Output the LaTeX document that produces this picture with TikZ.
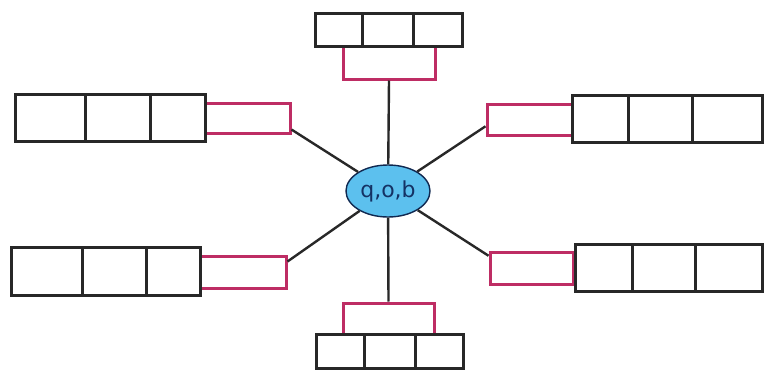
\documentclass[tikz,border=0pt]{standalone}
\usepackage{fontspec}
\setsansfont{DejaVu Sans}
\usetikzlibrary{calc,shapes.geometric}
\definecolor{cellink}{RGB}{40,40,40}
\definecolor{tagpink}{RGB}{190,45,100}
\definecolor{hubblue}{RGB}{92,192,238}
\definecolor{hubtext}{RGB}{20,50,100}
\tikzset{
  cell/.style={draw=cellink, line width=3pt, fill=white, rectangle, inner sep=0pt},
  tag/.style={draw=tagpink, line width=3pt, fill=white, rectangle, inner sep=0pt},
  spoke/.style={draw=cellink, line width=2.4pt},
  hub/.style={ellipse, draw=hubtext!80!black, line width=1.4pt, fill=hubblue, inner sep=0pt,
    minimum width=84pt, minimum height=52pt, font=\sffamily\fontsize{22}{22}\selectfont, text=hubtext}
}
\newcommand{\cellbox}[5]{\node[cell, minimum width=#4pt, minimum height=#5pt] (#1) at (#2,#3) {};}
\newcommand{\tagbox}[5]{\node[tag, minimum width=#4pt, minimum height=#5pt] (#1) at (#2,#3) {};}
\begin{document}
\begin{tikzpicture}[x=1pt,y=-1pt]
\useasboundingbox[fill=white] (0,0) rectangle (764,370);

% centre
\node[hub] (hub) at (388,191) {q,o,b};

% top group
\tagbox{tT}{389}{62.5}{92}{33}
\cellbox{cT1}{338.5}{29.5}{47}{33}
\cellbox{cT2}{387.5}{29.5}{51}{33}
\cellbox{cT3}{437.5}{29.5}{49}{33}

% upper left group
\tagbox{tUL}{247.5}{118}{85}{30}
\cellbox{cUL1}{50}{117.5}{70}{47}
\cellbox{cUL2}{117.5}{117.5}{65}{47}
\cellbox{cUL3}{177.5}{117.5}{55}{47}

% upper right group
\tagbox{tUR}{529.5}{119.5}{85}{31}
\cellbox{cUR1}{600}{118.5}{56}{47}
\cellbox{cUR2}{660}{118.5}{64}{47}
\cellbox{cUR3}{727}{118.5}{70}{47}

% lower left group
\tagbox{tLL}{243}{272}{86}{32}
\cellbox{cLL1}{46.5}{271}{71}{48}
\cellbox{cLL2}{114}{271}{64}{48}
\cellbox{cLL3}{173}{271}{54}{48}

% lower right group
\tagbox{tLR}{531.5}{268}{83}{32}
\cellbox{cLR1}{603.5}{267.5}{57}{47}
\cellbox{cLR2}{663.5}{267.5}{63}{47}
\cellbox{cLR3}{728.5}{267.5}{67}{47}

% bottom group
\tagbox{tB}{388.5}{318.5}{91}{31}
\cellbox{cB1}{340}{351}{48}{34}
\cellbox{cB2}{389.5}{351}{51}{34}
\cellbox{cB3}{439}{351}{48}{34}

% spokes
\draw[spoke] (tT.south) -- (hub);
\draw[spoke] (tB.north) -- (hub);
\draw[spoke] ($(tUL.south east)!0.15!(tUL.north east)$) -- (hub);
\draw[spoke] ($(tUR.south west)!0.3!(tUR.north west)$) -- (hub);
\draw[spoke] ($(tLL.north east)!0.2!(tLL.south east)$) -- (hub);
\draw[spoke] ($(tLR.north west)!0.15!(tLR.south west)$) -- (hub);
\end{tikzpicture}
\end{document}
